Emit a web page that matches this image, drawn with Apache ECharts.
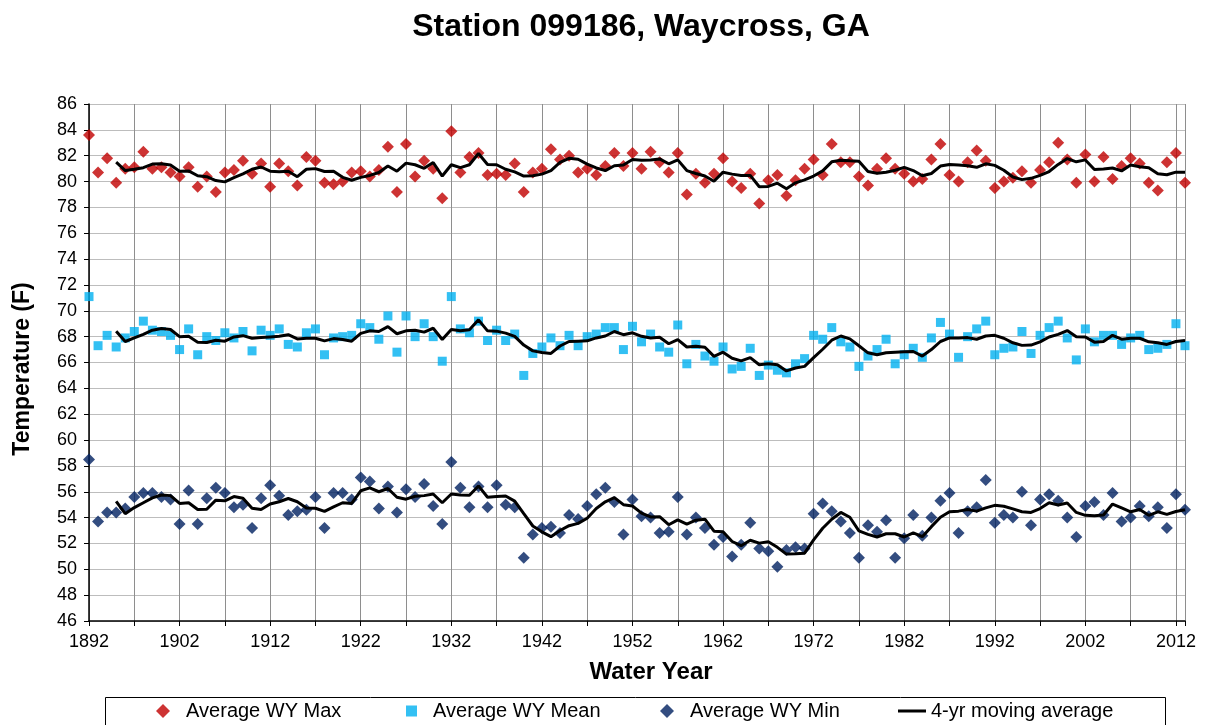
<!DOCTYPE html>
<html>
<head>
<meta charset="utf-8">
<script src="https://cdn.jsdelivr.net/npm/echarts@6/dist/echarts.min.js"></script>
<style>
  html, body { margin: 0; padding: 0; background: #ffffff; }
  #chart { width: 1208px; height: 725px; }
</style>
</head>
<body>
<div id="chart"></div>
<script>
// ---- Data (water years 1892 .. 2013) ----
const firstYear = 1892;
const xTickLabels = [1892, 1902, 1912, 1922, 1932, 1942, 1952, 1962, 1972, 1982, 1992, 2002, 2012];
const yTickRange = [46, 86];

const maxT = [
  83.6, 80.7, 81.8, 79.9, 81.0, 81.1, 82.3, 81.0, 81.1, 80.7,
  80.4, 81.1, 79.6, 80.4, 79.2, 80.7, 80.9, 81.6, 80.6, 81.4,
  79.6, 81.4, 80.8, 79.7, 81.9, 81.6, 79.9, 79.8, 80.0, 80.7,
  80.8, 80.4, 80.9, 82.7, 79.2, 82.9, 80.4, 81.6, 81.0, 78.7,
  83.9, 80.7, 81.9, 82.2, 80.5, 80.6, 80.5, 81.4, 79.2, 80.7,
  81.0, 82.5, 81.7, 82.0, 80.7, 81.0, 80.5, 81.2, 82.2, 81.2,
  82.2, 81.0, 82.3, 81.5, 80.7, 82.2, 79.0, 80.6, 79.9, 80.6,
  81.8, 80.0, 79.5, 80.6, 78.3, 80.1, 80.5, 78.9, 80.1, 81.0,
  81.7, 80.5, 82.9, 81.5, 81.5, 80.4, 79.7, 81.0, 81.8, 81.0,
  80.6, 80.0, 80.2, 81.7, 82.9, 80.5, 80.0, 81.5, 82.4, 81.6,
  79.5, 80.0, 80.3, 80.8, 79.9, 80.9, 81.5, 83.0, 81.7, 79.9,
  82.1, 80.0, 81.9, 80.2, 81.2, 81.8, 81.4, 79.9, 79.3, 81.5,
  82.2, 79.9
];

const meanT = [
  71.1, 67.3, 68.1, 67.2, 67.9, 68.4, 69.2, 68.5, 68.4, 68.1,
  67.0, 68.6, 66.6, 68.0, 67.7, 68.3, 67.9, 68.4, 66.9, 68.5,
  68.1, 68.6, 67.4, 67.2, 68.3, 68.6, 66.6, 67.9, 68.0, 68.1,
  69.0, 68.7, 67.8, 69.6, 66.8, 69.6, 68.0, 69.0, 68.0, 66.1,
  71.1, 68.6, 68.3, 69.2, 67.7, 68.5, 67.7, 68.2, 65.0, 66.7,
  67.2, 67.9, 67.3, 68.1, 67.3, 68.0, 68.2, 68.7, 68.7, 67.0,
  68.8, 67.6, 68.2, 67.2, 66.8, 68.9, 65.9, 67.4, 66.5, 66.1,
  67.2, 65.5, 65.7, 67.1, 65.0, 65.8, 65.4, 65.2, 65.9, 66.3,
  68.1, 67.8, 68.7, 67.6, 67.2, 65.7, 66.5, 67.0, 67.8, 65.9,
  66.6, 67.1, 66.4, 67.9, 69.1, 68.2, 66.4, 68.0, 68.6, 69.2,
  66.6, 67.1, 67.2, 68.4, 66.7, 68.1, 68.7, 69.2, 67.9, 66.2,
  68.6, 67.6, 68.1, 68.1, 67.4, 67.9, 68.1, 67.0, 67.1, 67.4,
  69.0, 67.3
];

const minT = [
  58.5, 53.7, 54.4, 54.4, 54.7, 55.6, 55.9, 55.9, 55.6, 55.4,
  53.5, 56.1, 53.5, 55.5, 56.3, 55.9, 54.8, 55.0, 53.2, 55.5,
  56.5, 55.7, 54.2, 54.5, 54.6, 55.6, 53.2, 55.9, 55.9, 55.4,
  57.1, 56.8, 54.7, 56.4, 54.4, 56.2, 55.6, 56.6, 54.9, 53.5,
  58.3, 56.3, 54.8, 56.4, 54.8, 56.5, 55.0, 54.8, 50.9, 52.7,
  53.2, 53.3, 52.8, 54.2, 53.9, 54.9, 55.8, 56.3, 55.2, 52.7,
  55.4, 54.1, 54.0, 52.8, 52.9, 55.6, 52.7, 54.0, 53.2, 51.9,
  52.5, 51.0, 51.9, 53.6, 51.6, 51.4, 50.2, 51.5, 51.7, 51.6,
  54.3, 55.1, 54.5, 53.7, 52.8, 50.9, 53.4, 52.9, 53.8, 50.9,
  52.4, 54.2, 52.6, 54.0, 55.3, 55.9, 52.8, 54.5, 54.8, 56.9,
  53.6, 54.2, 54.0, 56.0, 53.4, 55.4, 55.8, 55.3, 54.0, 52.5,
  54.9, 55.2, 54.2, 55.9, 53.7, 54.0, 54.9, 54.1, 54.8, 53.2,
  55.8, 54.6
];

const maWindow = 4;

// ---- helpers ----
function toPairs(arr) {
  return arr.map((v, i) => [firstYear + i, v]);
}
function movingAverage(arr, n) {
  const out = [];
  for (let i = n - 1; i < arr.length; i++) {
    let s = 0;
    for (let k = i - n + 1; k <= i; k++) s += arr[k];
    out.push([firstYear + i, +(s / n).toFixed(3)]);
  }
  return out;
}

const FONT = 'Liberation Sans, Arial, sans-serif';
const chart = echarts.init(document.getElementById('chart'), null, { renderer: 'canvas' });

const legendText = { fontSize: 20, fontFamily: FONT, color: '#000' };
const padName = function (name) { return '  ' + name; };
const lastYear = firstYear + maxT.length - 1;

const option = {
  backgroundColor: '#ffffff',
  animation: false,
  grid: { left: 89, top: 104, width: 1096, height: 517, containLabel: false },
  graphic: [
    {
      type: 'text', x: 641, y: 27, z: 10,
      style: { text: 'Station 099186, Waycross, GA', font: 'bold 32px ' + FONT, fill: '#000',
               textAlign: 'center', textVerticalAlign: 'middle' }
    },
    {
      type: 'text', x: 651, y: 672, z: 10,
      style: { text: 'Water Year', font: 'bold 24px ' + FONT, fill: '#000',
               textAlign: 'center', textVerticalAlign: 'middle' }
    },
    {
      type: 'text', x: 23, y: 369, rotation: Math.PI / 2, z: 10,
      style: { text: 'Temperature (F)', font: 'bold 23px ' + FONT, fill: '#000',
               textAlign: 'center', textVerticalAlign: 'middle' }
    },
    {
      type: 'rect', z: 0,
      shape: { x: 105.5, y: 697.5, width: 1060, height: 40 },
      style: { fill: '#ffffff', stroke: '#000', lineWidth: 1 }
    }
  ],
  legend: [
    { data: ['Average WY Max'], left: 156, top: 701, itemWidth: 14, itemHeight: 14, padding: 0,
      formatter: padName, selectedMode: false, textStyle: legendText },
    { data: ['Average WY Mean'], left: 406, top: 701, itemWidth: 11, itemHeight: 11, padding: 0,
      formatter: padName, selectedMode: false, textStyle: legendText },
    { data: ['Average WY Min'], left: 660, top: 701, itemWidth: 14, itemHeight: 14, padding: 0,
      formatter: padName, selectedMode: false, textStyle: legendText },
    { data: [{ name: '4-yr moving average', icon: 'rect' }], left: 898, top: 701,
      itemWidth: 28, itemHeight: 3, padding: 0,
      selectedMode: false, textStyle: legendText }
  ],
  xAxis: {
    type: 'value',
    min: firstYear,
    max: lastYear,
    interval: 5,
    axisLine: { show: true, lineStyle: { color: '#000', width: 1.5 } },
    axisTick: { show: true, inside: false, length: 5, lineStyle: { color: '#000' } },
    splitLine: { show: true, lineStyle: { color: '#8e8e8e', width: 1 } },
    axisLabel: {
      fontSize: 18, fontFamily: FONT, color: '#000', margin: 12,
      formatter: function (v) { return xTickLabels.indexOf(v) >= 0 ? String(v) : ''; }
    }
  },
  yAxis: {
    type: 'value',
    min: yTickRange[0],
    max: yTickRange[1],
    interval: 2,
    axisLine: { show: true, lineStyle: { color: '#000', width: 1.5 } },
    axisTick: { show: true, inside: false, length: 5, lineStyle: { color: '#000' } },
    splitLine: { show: true, lineStyle: { color: '#bdbdbd', width: 1 } },
    axisLabel: { fontSize: 18, fontFamily: FONT, color: '#000', margin: 12 }
  },
  series: [
    { name: 'Average WY Max', type: 'scatter', symbol: 'diamond', symbolSize: 12, z: 2,
      itemStyle: { color: '#C00000' }, data: toPairs(maxT) },
    { name: 'Average WY Mean', type: 'scatter', symbol: 'rect', symbolSize: 9, z: 2,
      itemStyle: { color: '#00B0F0' }, data: toPairs(meanT) },
    { name: 'Average WY Min', type: 'scatter', symbol: 'diamond', symbolSize: 12, z: 2,
      itemStyle: { color: '#002060' }, data: toPairs(minT) },
    { name: '4-yr moving average', type: 'line', showSymbol: false, symbol: 'none', z: 5,
      lineStyle: { color: '#000', width: 3 }, itemStyle: { color: '#000' },
      data: movingAverage(maxT, maWindow) },
    { name: '4-yr moving average', type: 'line', showSymbol: false, symbol: 'none', z: 5,
      lineStyle: { color: '#000', width: 3 }, itemStyle: { color: '#000' },
      data: movingAverage(meanT, maWindow) },
    { name: '4-yr moving average', type: 'line', showSymbol: false, symbol: 'none', z: 5,
      lineStyle: { color: '#000', width: 3 }, itemStyle: { color: '#000' },
      data: movingAverage(minT, maWindow) }
  ]
};
chart.setOption(option);
</script>
</body>
</html>
